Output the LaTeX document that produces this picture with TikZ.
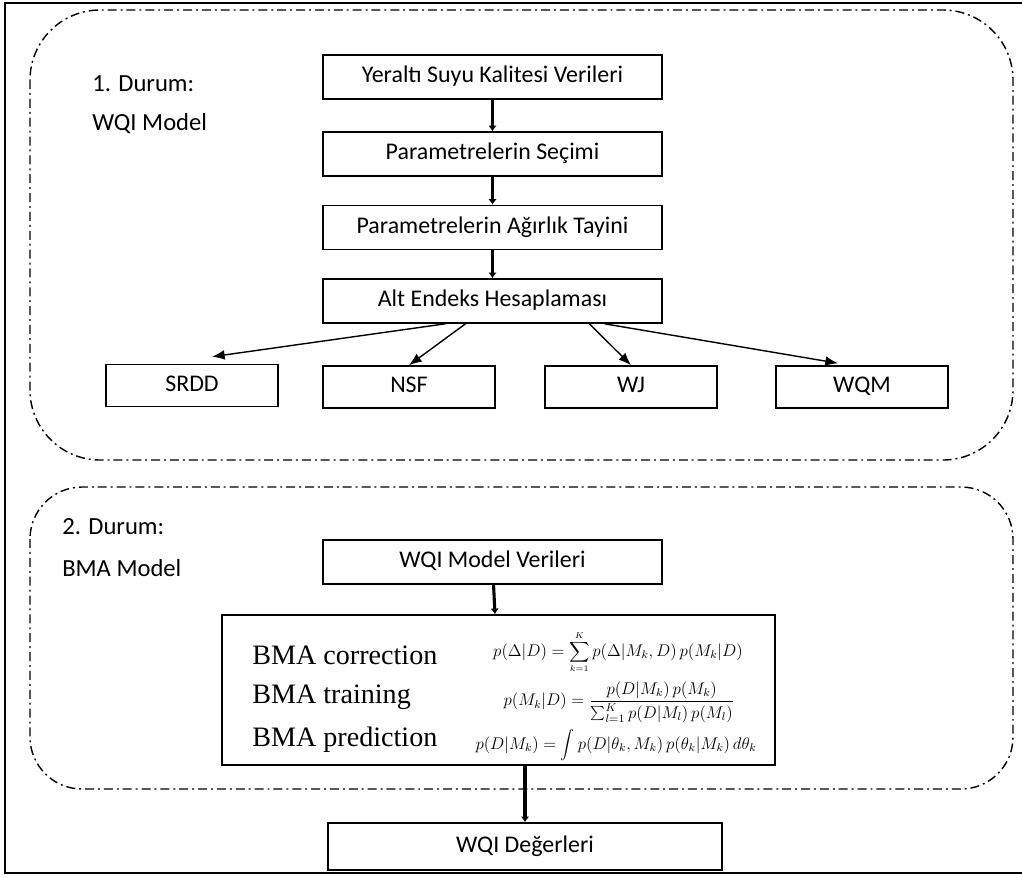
\documentclass[tikz,border=0pt]{standalone}
\usepackage{fontspec}
\setmainfont{Carlito}
\newfontfamily\timesfont{Liberation Serif}
\usetikzlibrary{arrows.meta,calc}

\tikzset{
  kutu/.style={draw, line width=1.1pt, inner sep=0pt, text height=11pt, text depth=3pt,
    font=\fontsize{17}{20}\selectfont},
  genis/.style={kutu, minimum width=8.475cm, minimum height=1.1cm},
  dar/.style={kutu, minimum width=4.3cm, minimum height=1.05cm},
  bolge/.style={line width=1pt, dash pattern=on 6.4pt off 2.8pt on 1.4pt off 2.8pt},
  kalin/.style={-{Latex[length=4pt,width=6pt]}, line width=2.2pt},
  ince/.style={-{Latex[length=9pt,width=7pt]}, line width=1pt},
  etiket/.style={anchor=west, inner sep=0pt, font=\fontsize{17.5}{20}\selectfont},
  bmayazi/.style={anchor=west, inner sep=0pt, font=\timesfont\fontsize{20}{24}\selectfont},
  formul/.style={inner sep=0pt, font=\fontsize{12}{14}\selectfont}
}

\begin{document}
\begin{tikzpicture}[x=0.025cm, y=-0.025cm]
  \useasboundingbox (0,0) rectangle (1022,877);
  % frame and regions
  \draw[line width=1.8pt] (1022,3) -- (5,3) -- (5,873) -- (1022,873);
  \draw[bolge, rounded corners=1.75cm] (30,10) rectangle (1013,460);
  \draw[bolge, rounded corners=1.3cm] (30,487) rectangle (1013,789);

  % 1. Durum
  \node[etiket] (durum1) at (92,84) {1. Durum:};
  \node[etiket] (model1) at (92,124) {WQI Model};
  \node[genis] (veri1) at (492.5,77) {Yeraltı Suyu Kalitesi Verileri};
  \node[genis] (secim) at (492.5,154) {Parametrelerin Seçimi};
  \node[genis] (agirlik) at (492.5,227.5) {Parametrelerin Ağırlık Tayini};
  \node[genis] (altendeks) at (492.5,301) {Alt Endeks Hesaplaması};
  \node[dar] (srdd) at (192,385.5) {SRDD};
  \node[dar] (nsf) at (409,387) {NSF};
  \node[dar] (wj) at (631,387) {WJ};
  \node[dar] (wqm) at (862,387) {WQM};

  \draw[kalin] (veri1) -- (secim);
  \draw[kalin] (secim) -- (agirlik);
  \draw[kalin] (agirlik) -- (altendeks);
  \draw[ince] ($(altendeks.south)+(-47,0)$) -- ($(srdd.north)+(20,-7)$);
  \draw[ince] ($(altendeks.south)+(-27,0)$) -- (nsf.north);
  \draw[ince] ($(altendeks.south)+(97,0)$) -- (wj.north);
  \draw[ince] ($(altendeks.south)+(112,0)$) -- ($(wqm.north)+(-24,-2)$);

  % 2. Durum
  \node[etiket] (durum2) at (62,527) {2. Durum:};
  \node[etiket] (model2) at (62,568) {BMA Model};
  \node[genis] (veri2) at (492.5,562) {WQI Model Verileri};
  \node[kutu, minimum width=13.825cm, minimum height=3.75cm] (bma) at (498.5,690) {};
  \node[bmayazi] (duzeltme) at (252,655) {BMA correction};
  \node[bmayazi] (egitim) at (252,697) {BMA training};
  \node[bmayazi] (tahmin) at (252,740) {BMA prediction};
  \node[formul] (f1) at (618,652) {$\displaystyle p(\Delta|D)=\sum_{\scriptscriptstyle k=1}^{\scriptscriptstyle K}p(\Delta|M_k,D)\,p(M_k|D)$};
  \node[formul] (f2) at (619,702) {$\displaystyle p(M_k|D)=\frac{p(D|M_k)\,p(M_k)}{\sum\nolimits_{l=1}^{K}p(D|M_l)\,p(M_l)}$};
  \node[formul] (f3) at (616,745) {$\displaystyle p(D|M_k)=\int p(D|\theta_k,M_k)\,p(\theta_k|M_k)\,d\theta_k$};
  \node[kutu, minimum width=9.85cm, minimum height=1.175cm] (deger) at (525,846.5) {WQI Değerleri};

  \draw[kalin] (veri2) -- (bma);
  \draw[kalin] (deger.north |- bma.south) -- (deger.north);
\end{tikzpicture}
\end{document}
